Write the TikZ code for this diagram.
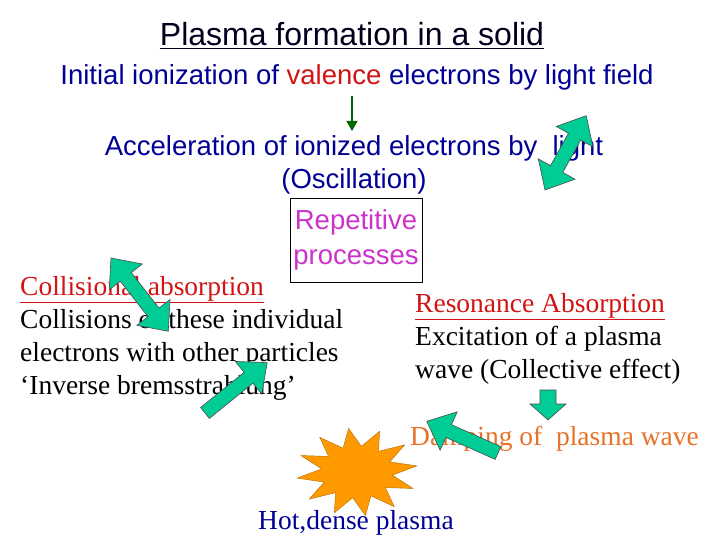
\documentclass[tikz,border=0pt]{standalone}
\usepackage{fontspec}
\setmainfont{Liberation Serif}
\setsansfont{Liberation Sans}
\usetikzlibrary{shapes.geometric,arrows.meta}
\definecolor{navy}{RGB}{0,0,150}
\definecolor{arrgreen}{RGB}{0,204,150}
\definecolor{mag}{RGB}{204,51,204}
\definecolor{orng}{RGB}{230,115,40}
\definecolor{redt}{RGB}{210,20,20}
\definecolor{starc}{RGB}{255,153,0}
\newcommand\fatsingle[4]{% x,y,angle,length
  \draw[fat,shift={(#1,#2)},rotate=#3] (0,-7) -- (#4-24,-7) -- (#4-24,-21) -- (#4,0) -- (#4-24,21) -- (#4-24,7) -- (0,7) -- cycle;}
\newcommand\fatdouble[4]{%
  \draw[fat,shift={(#1,#2)},rotate=#3] (0,0) -- (24,-21) -- (24,-7) -- (#4-24,-7) -- (#4-24,-21) -- (#4,0) -- (#4-24,21) -- (#4-24,7) -- (24,7) -- (24,21) -- cycle;}
\begin{document}
\begin{tikzpicture}[x=1pt,y=-1pt,
  sans/.style={font=\sffamily\fontsize{27.5}{33}\selectfont,text=navy,inner sep=0pt},
  ser/.style={font=\fontsize{27.5}{33}\selectfont,inner sep=0pt,align=left},
  fat/.style={draw=black!70,fill=arrgreen,line width=0.6pt}]
\useasboundingbox (0,0) rectangle (720,540);
\fill[white] (0,0) rectangle (720,540);
\node[sans,font=\sffamily\fontsize{32}{36}\selectfont,text=black!80!navy,anchor=base] (title) at (352,46) {\underline{Plasma formation in a solid}};
\node[sans,anchor=base] (init) at (357,85) {Initial ionization of \textcolor{redt}{valence} electrons by light field};
\node[sans,anchor=base] (acc) at (354,156) {Acceleration of ionized electrons by\ \ light};
\node[sans,anchor=base] (osc) at (354,189) {(Oscillation)};
\coordinate (d1) at (352,96);
\coordinate (d2) at (352,131);
\draw[line width=1.6pt,draw=green!40!black,-{Triangle[length=10pt,width=11pt]}] (d1) -- (d2);
\node[draw,sans,text=mag,align=center,minimum width=132pt,minimum height=84pt,font=\sffamily\fontsize{27.5}{35}\selectfont] (rep) at (356,240) {Repetitive\\processes};
\node[ser,anchor=north west] (coll) at (20,276) {\textcolor{redt}{\underline{Collisional absorption}}\\Collisions of these individual\\electrons with other particles\\`Inverse bremsstrahlung'};
\node[ser,anchor=north west] (res) at (415,293) {\textcolor{redt}{\underline{Resonance Absorption}}\\Excitation of a plasma\\wave (Collective effect)};
\node[ser,text=orng,anchor=base west] (damp) at (410,445) {Damping of\ \ plasma wave};
\node[star,star points=12,star point ratio=1.7,fill=starc,draw=starc!70!black,minimum size=110pt,xscale=1.1,yscale=0.8,rotate=8] (star) at (357,472) {};
\node[ser,text=navy,anchor=base west] (hot) at (258,529) {Hot,dense plasma};
% fat arrows
\fatdouble{111}{258}{-52}{93}
\fatdouble{545}{190}{61}{85}
\fatsingle{205}{413}{39}{80}
\fatsingle{498}{453}{156}{78}
\draw[fat] (540,390) -- (556,390) -- (556,404) -- (566,404) -- (548,420) -- (530,404) -- (540,404) -- cycle;
\end{tikzpicture}
\end{document}
